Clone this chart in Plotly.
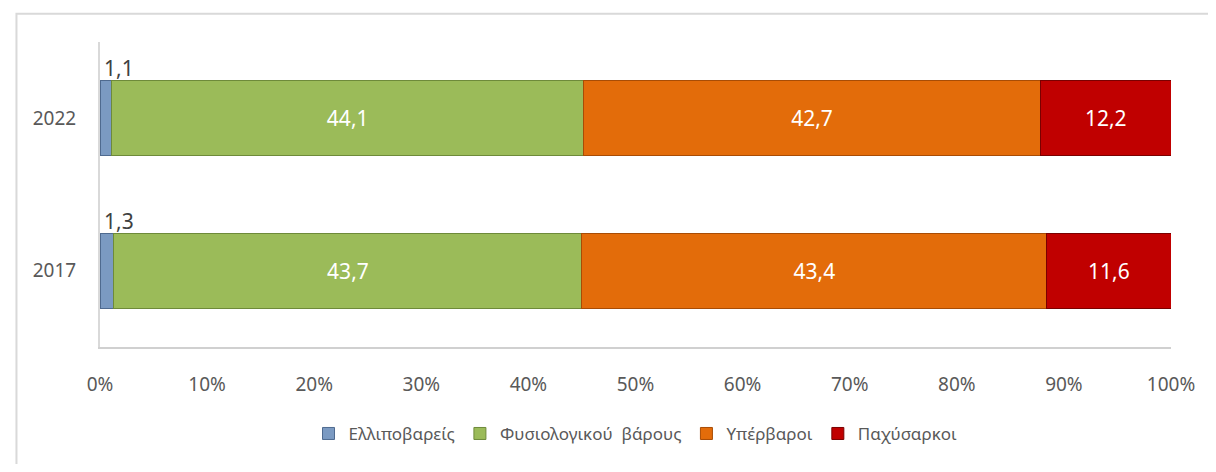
import plotly.graph_objects as go

years = ['2017', '2022']
series_names = ['Ελλιποβαρείς', 'Φυσιολογικού  βάρους', 'Υπέρβαροι', 'Παχύσαρκοι']
underweight = [1.3, 1.1]
normal = [43.7, 44.1]
overweight = [43.4, 42.7]
obese = [11.6, 12.2]
x_ticks = [0, 10, 20, 30, 40, 50, 60, 70, 80, 90, 100]

colors = ['#7b9ac2', '#9bbb59', '#e36c0a', '#c00000']
edges = ['#4f6a8f', '#6e8a3a', '#a84c05', '#7a0000']
FONT = 'Noto Sans'


def fmt(v):
    return f'{v}'.replace('.', ',')


fig = go.Figure()
for i, (name, vals) in enumerate(zip(series_names, [underweight, normal, overweight, obese])):
    fig.add_trace(
        go.Bar(
            y=years,
            x=vals,
            name=name,
            orientation='h',
            marker=dict(color=colors[i], line=dict(color=edges[i], width=1)),
            text=[fmt(v) for v in vals] if i > 0 else None,
            textposition='inside',
            insidetextanchor='middle',
            textangle=0,
            textfont=dict(color='white', size=21, family=FONT),
            hoverinfo='skip',
        )
    )

# small underweight values are written above the bars
# (category axis: annotation y is the category index)
for idx, v in enumerate(underweight):
    fig.add_annotation(
        x=0, y=idx, xref='x', yref='y',
        text=fmt(v), showarrow=False,
        xanchor='left', yanchor='middle',
        xshift=2, yshift=50,
        font=dict(size=21, color='#404040', family=FONT),
    )

fig.update_layout(
    barmode='stack',
    barnorm='percent',
    bargap=0.51,
    width=1200,
    height=456,
    margin=dict(l=92, r=37, t=34, b=109),
    plot_bgcolor='white',
    paper_bgcolor='white',
    font=dict(family=FONT, color='#595959', size=19),
    legend=dict(
        orientation='h',
        x=0.5, xanchor='center',
        y=-0.285, yanchor='middle',
        font=dict(size=17, color='#595959'),
        traceorder='normal',
    ),
    xaxis=dict(
        range=[0, 100],
        tickvals=x_ticks,
        ticktext=[f'{t}%' for t in x_ticks],
        showgrid=False,
        zeroline=False,
        showline=True,
        linecolor='#d0d0d0',
        linewidth=2,
        ticks='outside',
        ticklen=19,
        tickcolor='rgba(0,0,0,0)',
    ),
    yaxis=dict(
        type='category',
        showgrid=False,
        zeroline=False,
        showline=True,
        linecolor='#d9d9d9',
        linewidth=2,
        ticks='outside',
        ticklen=18,
        tickcolor='rgba(0,0,0,0)',
    ),
    shapes=[
        dict(
            type='rect', xref='paper', yref='paper',
            x0=-0.078, x1=1.3, y0=-0.6, y1=1.093,
            line=dict(color='#d9d9d9', width=2),
            fillcolor='rgba(0,0,0,0)', layer='below',
        )
    ],
)

fig.write_html('out.html')
